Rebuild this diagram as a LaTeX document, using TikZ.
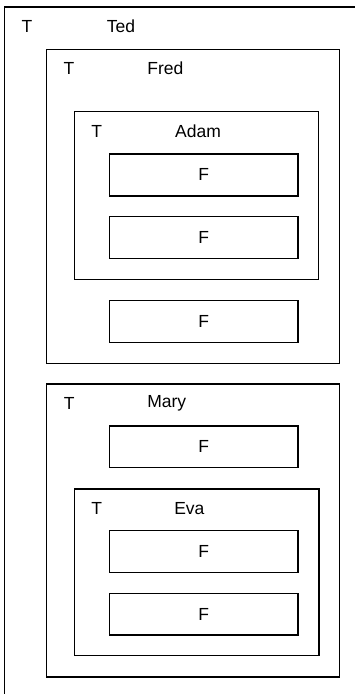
\documentclass[tikz,border=0pt]{standalone}
\usepackage{fontspec}
\setmainfont{Liberation Sans}
\begin{document}
\begin{tikzpicture}[x=1pt,y=-1pt,
  box/.style={draw=black,line width=1.3pt,rectangle,inner sep=0pt,anchor=north west},
  lbl/.style={inner sep=0pt,font=\fontsize{17.5}{20}\selectfont,text=black}]
\useasboundingbox[fill=white] (0,0) rectangle (355,694);
% outer (clipped) box
\coordinate (tedbl) at (4.5,700);
\coordinate (tedtl) at (4.5,7);
\coordinate (tedtr) at (360,7);
\draw[draw=black,line width=1.3pt] (tedbl) -- (tedtl) -- (tedtr);
\node[lbl] (tedT) at (27,26.7) {T};
\node[lbl] (ted) at (121,26.7) {Ted};
% Fred
\node[box,minimum width=293pt,minimum height=314pt] (fred) at (46,49) {};
\node[lbl] (fredT) at (69,68.5) {T};
\node[lbl] (fredL) at (165.3,68.5) {Fred};
% Adam
\node[box,minimum width=244pt,minimum height=168pt] (adam) at (74,111) {};
\node[lbl] (adamT) at (96.7,131.7) {T};
\node[lbl] (adamL) at (198,131.7) {Adam};
\node[box,minimum width=188.5pt,minimum height=42pt] (f1) at (108.8,153.3) {};
\node[lbl] at (f1.center) {F};
\node[box,minimum width=188.5pt,minimum height=42pt] (f2) at (108.8,215.5) {};
\node[lbl] at (f2.center) {F};
\node[box,minimum width=188.5pt,minimum height=42pt] (f3) at (108.8,299.7) {};
\node[lbl] at (f3.center) {F};
% Mary
\node[box,minimum width=293pt,minimum height=293pt] (mary) at (46,383.3) {};
\node[lbl] (maryT) at (69.3,403.3) {T};
\node[lbl] (maryL) at (166.7,403.3) {Mary};
\node[box,minimum width=188.5pt,minimum height=41.7pt] (f4) at (108.8,425.3) {};
\node[lbl] at (f4.center) {F};
% Eva
\node[box,minimum width=244.3pt,minimum height=166.7pt] (eva) at (74,488.3) {};
\node[lbl] (evaT) at (96.7,508.3) {T};
\node[lbl] (evaL) at (189.4,508.3) {Eva};
\node[box,minimum width=188.5pt,minimum height=42pt] (f5) at (108.8,530) {};
\node[lbl] at (f5.center) {F};
\node[box,minimum width=188.5pt,minimum height=41.6pt] (f6) at (108.8,592.7) {};
\node[lbl] at (f6.center) {F};
\end{tikzpicture}
\end{document}
